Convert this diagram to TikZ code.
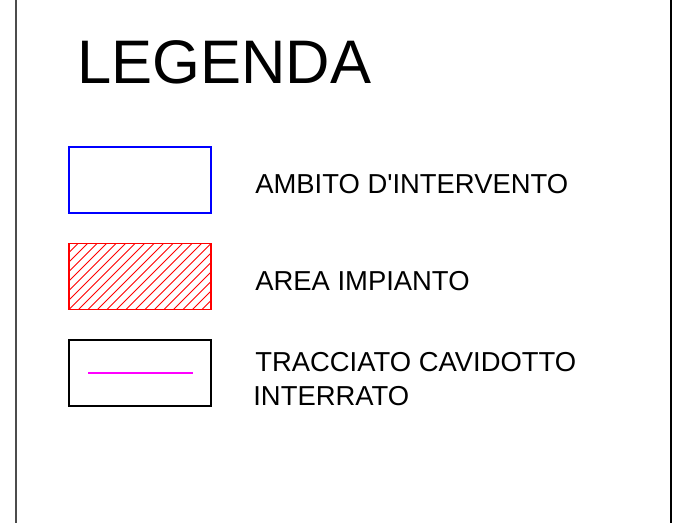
\documentclass[tikz,border=0pt]{standalone}
\usepackage{fontspec}
\setmainfont{Liberation Sans}
\usepackage{tikz}
\usetikzlibrary{calc}
\definecolor{fucsia}{RGB}{255,0,255}
\tikzset{
	every node/.style={
		font=\fontsize{15.6}{18}\selectfont,
		inner sep=0pt
	},
	titolo/.style={
		anchor=base west,
		font=\fontsize{35}{40}\selectfont
	},
	voce/.style={
		anchor=base west
	},
	simbolo/.style={
		shape=rectangle,
		minimum width=2.84cm,
		minimum height=1.32cm,
		line width=0.9pt
	},
	ambito/.style={
		simbolo,
		draw=blue
	},
	impianto/.style={
		simbolo,
		draw=red,
		path picture={
			\foreach \k in {-8,...,16} {
				\draw[red,line width=0.55pt,x=1cm,y=1cm] ($(path picture bounding box.south west)+(\k*0.19,0)$) -- ++(1.5,1.5);
			}
		}
	},
	cavidotto/.style={
		simbolo,
		draw=black
	},
	cornice/.style={line width=1.1pt}
}

\begin{document}
\begin{tikzpicture}[x=0.02cm,y=-0.02cm]
	
	\useasboundingbox (0,0) rectangle (674,523);
	\draw[cornice,black!70] (16,0) -- (16,523);
	\draw[cornice] (671,0) -- (671,523);
	
	\node[titolo] (legenda) at (77,84) {LEGENDA};
	
	\node[ambito] (ambito) at (140,180) {};
	\node[voce] (t1) at (255,194) {AMBITO D\textquotesingle INTERVENTO};
	
	\node[impianto] (impianto) at (140,276.5) {};
	\node[voce] (t2) at (255,291) {AREA IMPIANTO};
	
	\node[cavidotto] (tracciato) at (140,373) {};
	\draw[fucsia,line width=0.9pt] ([xshift=0.4cm]tracciato.west) -- ([xshift=-0.38cm]tracciato.east);
	\node[voce] (t3) at (255,372) {TRACCIATO CAVIDOTTO};
	\node[voce] (t4) at (253,406) {INTERRATO};
	
\end{tikzpicture}
\end{document}
